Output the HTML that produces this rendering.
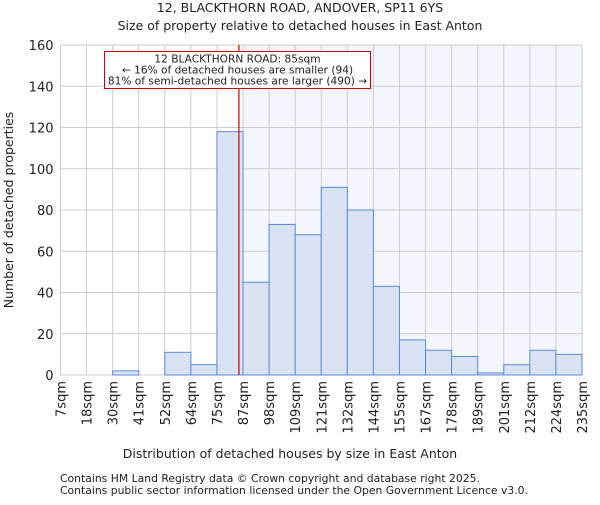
<!DOCTYPE html>
<html><head><meta charset="utf-8"><style>
body{margin:0;background:#fff;}
svg text{font-family:"DejaVu Sans","Liberation Sans",sans-serif;fill:#222;}
</style></head><body>
<svg id="chart" width="600" height="500" xmlns="http://www.w3.org/2000/svg">
<text x="300" y="12" text-anchor="middle" font-size="12.5">12, BLACKTHORN ROAD, ANDOVER, SP11 6YS</text>
<text x="300" y="30" text-anchor="middle" font-size="12.5">Size of property relative to detached houses in East Anton</text>
<g id="plot"></g>
<text x="290" y="458" text-anchor="middle" font-size="12.5">Distribution of detached houses by size in East Anton</text>
<text transform="translate(13,210) rotate(-90)" text-anchor="middle" font-size="12.5">Number of detached properties</text>
<text x="60" y="482" font-size="10.8" fill="#444">Contains HM Land Registry data © Crown copyright and database right 2025.</text>
<text x="60" y="494" font-size="10.8" fill="#444">Contains public sector information licensed under the Open Government Licence v3.0.</text>
</svg>
<script>
const binLabels=["7sqm","18sqm","30sqm","41sqm","52sqm","64sqm","75sqm","87sqm","98sqm","109sqm","121sqm","132sqm","144sqm","155sqm","167sqm","178sqm","189sqm","201sqm","212sqm","224sqm","235sqm"];
const counts=[0,0,2,0,11,5,118,45,73,68,91,80,43,17,12,9,1,5,12,10];
const yTicks=[0,20,40,60,80,100,120,140,160];
const propertySize=85;
const binEdges=[7,18.4,29.8,41.2,52.6,64,75.4,86.8,98.2,109.6,121,132.4,143.8,155.2,166.6,178,189.4,200.8,212.2,223.6,235];
const L=60.5,R=582,T=45,B=375,NS="http://www.w3.org/2000/svg";
const bw=(R-L)/counts.length;
const xi=i=>L+i*bw;
const xv=v=>{for(let i=0;i<binEdges.length-1;i++){if(v<=binEdges[i+1])return xi(i)+(v-binEdges[i])/(binEdges[i+1]-binEdges[i])*bw;}return R;};
const y=v=>B-v/160*(B-T);
const g=document.getElementById('plot');
function mk(t,a){const e=document.createElementNS(NS,t);for(const k in a)e.setAttribute(k,a[k]);g.appendChild(e);return e;}
let shadeStart=xi(Math.ceil((xv(propertySize)-L)/bw));
let sh=mk('rect',{x:shadeStart,y:T,width:R-shadeStart,height:B-T,fill:'#f3f6fd'});


for(let i=0;i<binLabels.length;i++){let l=mk('line',{x1:xi(i),x2:xi(i),y1:T,y2:B,stroke:'#ccc','stroke-width':1});

}
yTicks.forEach(t=>{let l=mk('line',{x1:L,x2:R,y1:y(t),y2:y(t),stroke:'#ccc','stroke-width':1});


let tx=mk('text',{x:L-7,y:y(t)+5,'text-anchor':'end','font-size':13});tx.textContent=t;

});
counts.forEach((c,i)=>{if(c<=0)return;let r=mk('rect',{x:xi(i),y:y(c),width:bw,height:B-y(c),fill:'#dae3f4',stroke:'#5b8bd6','stroke-width':1});

});
binLabels.forEach((s,i)=>{let tx=mk('text',{transform:`translate(${xi(i)+5},${B+6}) rotate(-90)`,'text-anchor':'end','font-size':13});tx.textContent=s;

});
let ax=mk('line',{x1:L,x2:L,y1:T,y2:B,stroke:'#ccc'});


let px=xv(propertySize);
let rl=mk('line',{x1:px,x2:px,y1:T,y2:B,stroke:'#cc0000','stroke-width':1.2});


let box=mk('rect',{x:104.5,y:51.5,width:266,height:37,fill:'#fff',stroke:'#cc0000','stroke-width':1});


["12 BLACKTHORN ROAD: 85sqm","← 16% of detached houses are smaller (94)","81% of semi-detached houses are larger (490) →"].forEach((s,i)=>{let tx=mk('text',{x:237.5,y:62.5+i*11,'text-anchor':'middle','font-size':10.6});tx.textContent=s;

});
</script>
</body></html>
